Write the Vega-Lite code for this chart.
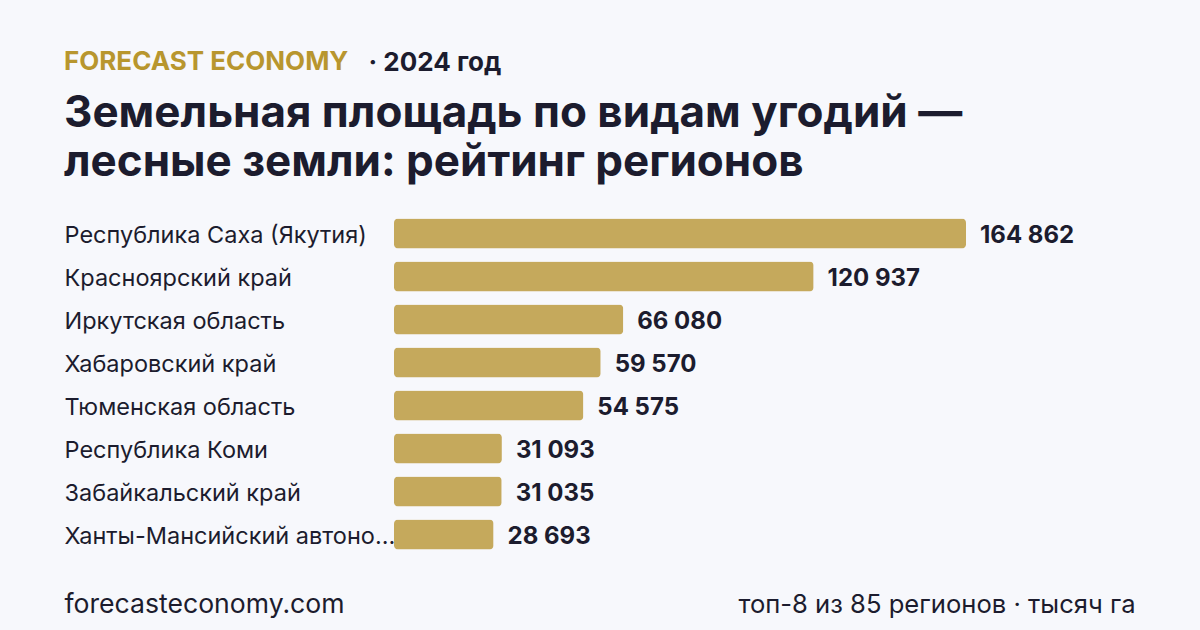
{
  "$schema": "https://vega.github.io/schema/vega-lite/v6.json",
  "autosize": {"type": "none"},
  "width": 572,
  "height": 344,
  "padding": {"left": 394, "top": 212, "right": 234, "bottom": 74},
  "background": "#f7f8fc",
  "config": {
    "view": {"stroke": null},
    "font": "Inter",
    "locale": {"number": {"decimal": ",", "thousands": " ", "grouping": [3], "currency": ["", ""]}}
  },
  "title": {
    "text": "FORECAST ECONOMY",
    "subtitle": ["Земельная площадь по видам угодий —", "лесные земли: рейтинг регионов"],
    "anchor": "start",
    "frame": "group",
    "dx": -330,
    "dy": 156,
    "color": "#b8962e",
    "font": "Inter",
    "fontSize": 26,
    "fontWeight": 700,
    "subtitleFont": "Inter",
    "subtitleFontSize": 44,
    "subtitleFontWeight": 700,
    "subtitleColor": "#1c1c2e",
    "subtitleLineHeight": 49,
    "subtitlePadding": 17,
    "offset": 20
  },
  "data": {
    "values": [
      {"region": "Республика Саха (Якутия)", "value": 164862},
      {"region": "Красноярский край", "value": 120937},
      {"region": "Иркутская область", "value": 66080},
      {"region": "Хабаровский край", "value": 59570},
      {"region": "Тюменская область", "value": 54575},
      {"region": "Республика Коми", "value": 31093},
      {"region": "Забайкальский край", "value": 31035},
      {"region": "Ханты-Мансийский автономный округ — Югра", "value": 28693}
    ]
  },
  "encoding": {
    "y": {
      "field": "region",
      "type": "nominal",
      "sort": null,
      "scale": {"paddingInner": 0.3, "paddingOuter": 0.15},
      "axis": {
        "title": "· 2024 год",
        "titleAngle": 0,
        "titleX": -26,
        "titleY": -142,
        "titleAlign": "left",
        "titleBaseline": "alphabetic",
        "titleFont": "Inter",
        "titleFontSize": 26,
        "titleFontWeight": 700,
        "titleColor": "#1c1c2e",
        "labelAlign": "left",
        "labelPadding": 330,
        "labelLimit": 338,
        "labelOffset": 2,
        "labelFont": "Inter",
        "labelFontSize": 23.5,
        "labelColor": "#1c1c2e",
        "domain": false,
        "ticks": false,
        "tickSize": 0,
        "grid": false
      }
    }
  },
  "layer": [
    {
      "mark": {"type": "bar", "color": "#c5a95c", "cornerRadius": 4},
      "encoding": {
        "x": {
          "field": "value",
          "type": "quantitative",
          "scale": {"domain": [0, 164862], "nice": false, "zero": true},
          "axis": {
            "orient": "bottom",
            "title": "forecasteconomy.com",
            "titleX": -330,
            "titleY": 56,
            "titleAlign": "left",
            "titleBaseline": "alphabetic",
            "titleFont": "Inter",
            "titleFontSize": 26.6,
            "titleFontWeight": 400,
            "titleColor": "#1c1c2e",
            "labels": false,
            "ticks": false,
            "domain": false,
            "grid": false
          }
        }
      }
    },
    {
      "mark": {"type": "text", "align": "left", "baseline": "middle", "dx": 14, "dy": 2, "font": "Inter", "fontSize": 24, "fontWeight": 700, "color": "#1c1c2e"},
      "encoding": {
        "x": {
          "field": "value",
          "type": "quantitative",
          "axis": {
            "orient": "top",
            "title": "топ-8 из 85 регионов · тысяч га",
            "titleX": 741,
            "titleY": 400,
            "titleAlign": "right",
            "titleBaseline": "alphabetic",
            "titleFont": "Inter",
            "titleFontSize": 25.6,
            "titleFontWeight": 400,
            "titleColor": "#1c1c2e",
            "labels": false,
            "ticks": false,
            "domain": false,
            "grid": false
          }
        },
        "text": {"field": "value", "type": "quantitative", "format": ",d"}
      }
    }
  ],
  "resolve": {"axis": {"x": "independent"}}
}
